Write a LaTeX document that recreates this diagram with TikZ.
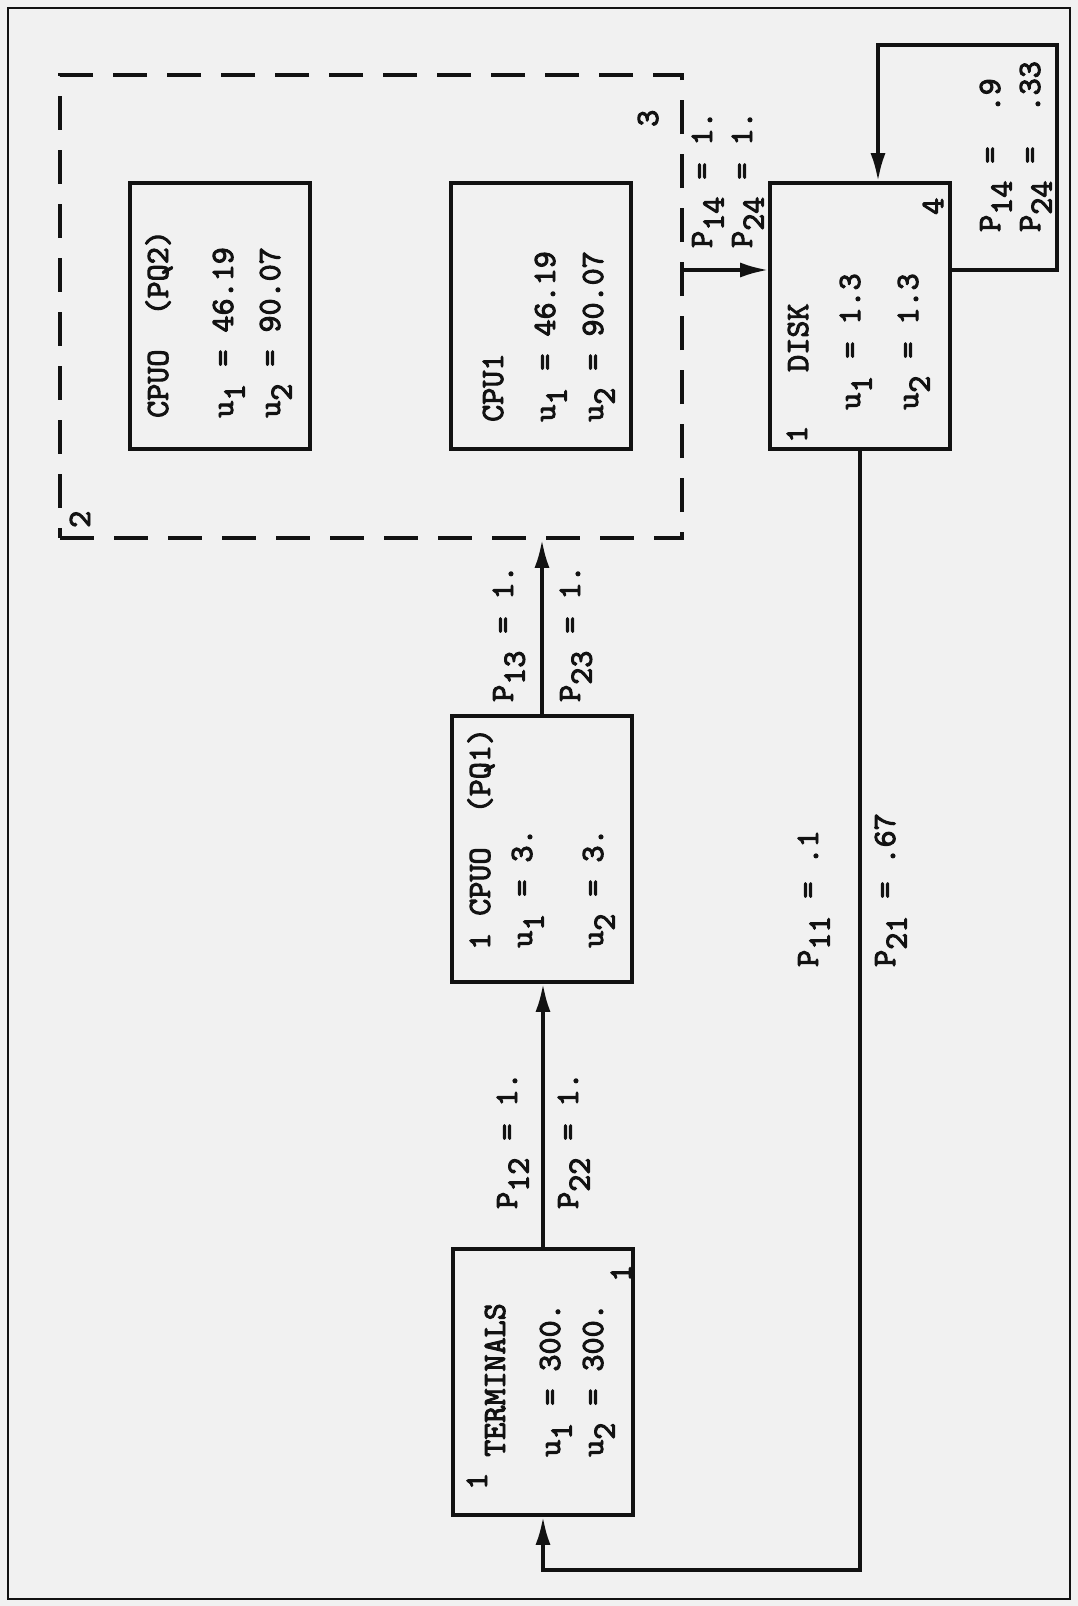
\documentclass[tikz,border=0pt]{standalone}
\usepackage{fontspec}
\newfontfamily\twfont[Extension=.otf,FakeBold=3]{lmmono10-regular}
\usetikzlibrary{arrows.meta}
\definecolor{paper}{RGB}{241,241,241}
\definecolor{ink}{RGB}{18,18,18}
\newcommand\sbs[1]{\raisebox{-0.36em}{#1}}
\begin{document}
\begin{tikzpicture}[x=1pt,y=-1pt,
  box/.style={draw=ink,line width=3.6pt,minimum width=180pt,minimum height=266pt,inner sep=0pt},
  grpbox/.style={draw=ink,line width=3.6pt,dash pattern=on 34pt off 20pt,minimum width=622pt,minimum height=463pt,inner sep=0pt},
  txt/.style={rotate=90,anchor=base west,inner sep=0pt,text=ink,font=\twfont\fontsize{32.5}{36}\selectfont},
  conn/.style={draw=ink,line width=3.4pt},
  arr/.style={draw=ink,line width=3.4pt,-{Latex[length=28pt,width=15pt]}},
]
\fill[paper] (0,0) rectangle (1078,1606);
\useasboundingbox (0,0) rectangle (1078,1606);
\draw[ink,line width=2.4pt] (8,8) rectangle (1070,1599);

% boxes
\node[grpbox] (grp) at (371,306.5) {};
\node[box] (pq2) at (220,316) {};
\node[box] (cpu1) at (541,316) {};
\node[box] (disk) at (860,316) {};
\node[box] (pq1) at (542,849) {};
\node[box] (term) at (543,1382) {};

% helper coordinates
\coordinate (yin) at (0,270);
\coordinate (lr) at (1057,270);
\coordinate (ltr) at (1057,45);
\coordinate (ltl) at (878,45);
\coordinate (yb) at (0,1570);

% connectors
\draw[arr] (term.north) -- (term.north |- pq1.south);
\draw[arr] (pq1.north) -- (pq1.north |- grp.south);
\draw[arr] (grp.east |- yin) -- (disk.west |- yin);
\draw[arr] (disk.east |- yin) -- (lr) -- (ltr) -- (ltl) -- (ltl |- disk.north);
\draw[arr] (disk.south) -- (disk.south |- yb) -- (term.south |- yb) -- (term.south);

% TERMINALS
\node[txt] (t1) at (487,1490) {1};
\node[txt] (tn) at (505,1457) {TERMINALS};
\node[txt] (tu1) at (560,1457) {u\sbs{1} = 300.};
\node[txt] (tu2) at (603,1457) {u\sbs{2} = 300.};
\node[txt] (tc) at (631,1282) {1};

% CPU0 (PQ1)
\node[txt] (an) at (490,950) {1 CPUO~~(PQ1)};
\node[txt] (au1) at (532,948) {u\sbs{1} = 3.};
\node[txt] (au2) at (603,948) {u\sbs{2} = 3.};

% CPU0 (PQ2)
\node[txt] (bn) at (168,418) {CPUO~~(PQ2)};
\node[txt] (bu1) at (233,418) {u\sbs{1} = 46.19};
\node[txt] (bu2) at (280,418) {u\sbs{2} = 90.07};

% CPU1
\node[txt] (cn) at (503,422) {CPU1};
\node[txt] (cu1) at (555,422) {u\sbs{1} = 46.19};
\node[txt] (cu2) at (603,422) {u\sbs{2} = 90.07};

% DISK
\node[txt] (d1) at (807,443) {1};
\node[txt] (dn) at (808,372) {DISK};
\node[txt] (du1) at (860,410) {u\sbs{1} = 1.3};
\node[txt] (du2) at (918,410) {u\sbs{2} = 1.3};
\node[txt] (d4) at (943,215) {4};

% group labels
\node[txt] (g2) at (90,528) {2};
\node[txt] (g3) at (658,127) {3};

% transition probabilities
\node[txt] (p14a) at (712,248) {P\sbs{14} = 1.};
\node[txt] (p24a) at (752,248) {P\sbs{24} = 1.};
\node[txt] (p14b) at (1000,232) {P\sbs{14} =~~.9};
\node[txt] (p24b) at (1040,232) {P\sbs{24} =~~.33};
\node[txt] (p13) at (513,702) {P\sbs{13} = 1.};
\node[txt] (p23) at (580,702) {P\sbs{23} = 1.};
\node[txt] (p12) at (517,1209) {P\sbs{12} = 1.};
\node[txt] (p22) at (578,1209) {P\sbs{22} = 1.};
\node[txt] (p11) at (818,967) {P\sbs{11} = .1};
\node[txt] (p21) at (895,967) {P\sbs{21} = .67};
\end{tikzpicture}
\end{document}
